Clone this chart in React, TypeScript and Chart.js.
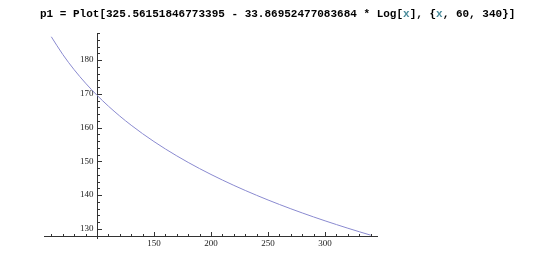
import React, { useEffect, useRef } from "react";
import { Chart, registerables } from "chart.js";

Chart.register(...registerables);

// Sample points (x, y)
const xValues = [60, 70, 80, 90, 100, 110, 120, 130, 140, 150, 160, 170, 180, 190, 200, 210, 220, 230, 240, 250, 260, 270, 280, 290, 300, 310, 320, 330, 340];
const yValues = [186.888, 181.667, 177.144, 173.155, 169.587, 166.359, 163.412, 160.701, 158.191, 155.854, 153.668, 151.615, 149.679, 147.848, 146.110, 144.458, 142.882, 141.377, 139.935, 138.553, 137.224, 135.946, 134.714, 133.526, 132.377, 131.267, 130.192, 129.149, 128.138];

const xMajorTicks = [150, 200, 250, 300];
const xMinorTicks = [60, 70, 80, 90, 110, 120, 130, 140, 160, 170, 180, 190, 210, 220, 230, 240, 260, 270, 280, 290, 310, 320, 330, 340];
const yMajorTicks = [130, 140, 150, 160, 170, 180];
const yMinorTicks = [128, 132, 134, 136, 138, 142, 144, 146, 148, 152, 154, 156, 158, 162, 164, 166, 168, 172, 174, 176, 178, 182, 184, 186, 188];

const xRange = [53.6, 346.4];
const yRange = [127, 188];
const axesOrigin = [100, 128];

const axesPlugin = {
  id: "mmaAxes",
  beforeDatasetsDraw(chart: any) {
    const { ctx, chartArea } = chart;
    const xs = chart.scales.x;
    const ys = chart.scales.y;
    const ox = Math.round(xs.getPixelForValue(axesOrigin[0])) + 0.5;
    const oy = Math.round(ys.getPixelForValue(axesOrigin[1])) + 0.5;
    ctx.save();
    ctx.strokeStyle = "#333";
    ctx.lineWidth = 1;
    ctx.beginPath();
    ctx.moveTo(chartArea.left, oy);
    ctx.lineTo(chartArea.right, oy);
    ctx.moveTo(ox, chartArea.top);
    ctx.lineTo(ox, chartArea.bottom);
    // x ticks (pointing up)
    xMajorTicks.forEach((v) => {
      const px = Math.round(xs.getPixelForValue(v)) + 0.5;
      ctx.moveTo(px, oy);
      ctx.lineTo(px, oy - 4.5);
    });
    xMinorTicks.forEach((v) => {
      const px = Math.round(xs.getPixelForValue(v)) + 0.5;
      ctx.moveTo(px, oy);
      ctx.lineTo(px, oy - 2.5);
    });
    // y ticks (pointing right)
    yMajorTicks.forEach((v) => {
      const py = Math.round(ys.getPixelForValue(v)) + 0.5;
      ctx.moveTo(ox, py);
      ctx.lineTo(ox + 4.5, py);
    });
    yMinorTicks.forEach((v) => {
      const py = Math.round(ys.getPixelForValue(v)) + 0.5;
      ctx.moveTo(ox, py);
      ctx.lineTo(ox + 2.5, py);
    });
    ctx.stroke();

    ctx.fillStyle = "#222";
    ctx.font = '9px "Liberation Serif", "Times New Roman", serif';
    ctx.textAlign = "center";
    ctx.textBaseline = "top";
    xMajorTicks.forEach((v) => {
      ctx.fillText(String(v), xs.getPixelForValue(v), oy + 3);
    });
    ctx.textAlign = "right";
    ctx.textBaseline = "middle";
    yMajorTicks.forEach((v) => {
      ctx.fillText(String(v), ox - 4, ys.getPixelForValue(v));
    });
    ctx.restore();
  },
};

export default function App() {
  const canvasRef = useRef<HTMLCanvasElement | null>(null);

  useEffect(() => {
    if (!canvasRef.current) return;
    const chart = new Chart(canvasRef.current, {
      type: "line",
      data: {
        datasets: [
          {
            data: xValues.map((x, i) => ({ x, y: yValues[i] })),
            borderColor: "#8a8ad0",
            borderWidth: 1,
            pointRadius: 0,
            fill: false,
            cubicInterpolationMode: "monotone",
          },
        ],
      },
      options: {
        responsive: false,
        animation: false,
        events: [],
        layout: { padding: { left: 44, top: 33, right: 182, bottom: 21 } },
        plugins: { legend: { display: false }, tooltip: { enabled: false }, title: { display: false } },
        scales: {
          x: { type: "linear", min: xRange[0], max: xRange[1], display: false },
          y: { type: "linear", min: yRange[0], max: yRange[1], display: false },
        },
      },
      plugins: [axesPlugin],
    });
    return () => chart.destroy();
  }, []);

  const xs = { color: "#4a8c9b" };
  return (
    <div style={{ position: "absolute", left: 0, top: 0, width: 560, height: 260, background: "#fff" }}>
      <canvas ref={canvasRef} width={560} height={260} style={{ position: "absolute", left: 0, top: 0 }} />
      <div
        style={{
          position: "absolute",
          left: 40,
          top: 8,
          font: 'bold 11px "Liberation Mono", "Courier New", monospace',
          lineHeight: "12px",
          whiteSpace: "pre",
          color: "#000",
        }}
      >
        {"p1 = Plot[325.56151846773395 - 33.86952477083684 * Log["}
        <span style={xs}>x</span>
        {"], {"}
        <span style={xs}>x</span>
        {", 60, 340}]"}
      </div>
    </div>
  );
}
